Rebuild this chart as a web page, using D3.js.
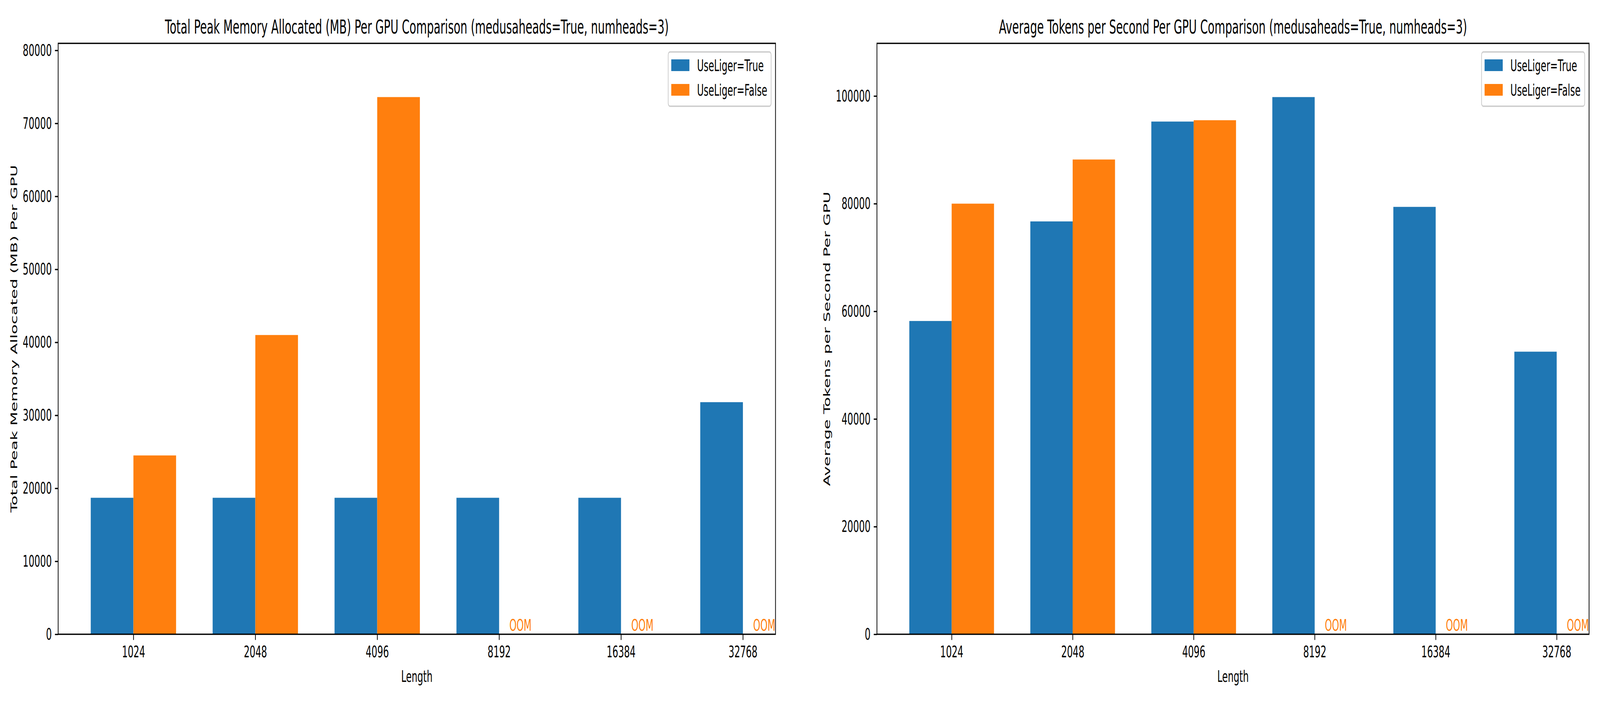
<!DOCTYPE html>
<html>
<head>
<meta charset="utf-8">
<script src="https://cdn.jsdelivr.net/npm/d3@7/dist/d3.min.js"></script>
<style>
  html, body { margin: 0; padding: 0; background: #ffffff; width: 100%; height: 100%; overflow: hidden; }
  svg { display: block; width: 100vw; height: 100vh; }
  text { font-family: "DejaVu Sans", sans-serif; fill: #000; }
</style>
</head>
<body>
<svg id="chart" viewBox="0 0 7320 1800" preserveAspectRatio="none"></svg>
<script>
// ---------------- data ----------------
const lengths = ["1024", "2048", "4096", "8192", "16384", "32768"];
const seriesNames = ["UseLiger=True", "UseLiger=False"];
const seriesColors = ["#1f77b4", "#ff7f0e"];

const memTrue  = [18700, 18700, 18700, 18700, 18700, 31800];
const memFalse = [24500, 41000, 73600, null, null, null];

const tpsTrue  = [58200, 76700, 95250, 99800, 79400, 52500];
const tpsFalse = [80000, 88200, 95500, null, null, null];

const memTicks = [0, 10000, 20000, 30000, 40000, 50000, 60000, 70000, 80000];
const tpsTicks = [0, 20000, 40000, 60000, 80000, 100000];

const memTitle = "Total Peak Memory Allocated (MB) Per GPU Comparison (medusaheads=True, numheads=3)";
const tpsTitle = "Average Tokens per Second Per GPU Comparison (medusaheads=True, numheads=3)";
const memYLabel = "Total Peak Memory Allocated (MB) Per GPU";
const tpsYLabel = "Average Tokens per Second Per GPU";
const xLabel = "Length";
const oomLabel = "OOM";

// ---------------- drawing ----------------
const svg = d3.select("#chart");
const FS = 41.67;      // 10pt @ 300dpi
const TFS = 50;        // 12pt @ 300dpi
const LW = 3.33;       // 0.8pt
const TICK = 14.6;     // 3.5pt
const BARW = 0.35;

svg.append("rect").attr("x", 0).attr("y", 0).attr("width", 7320).attr("height", 1800).attr("fill", "#ffffff");

function panel(cfg) {
  const { left, right, top, bottom, trueVals, falseVals, ticks, title, ylabel, ylabelX } = cfg;
  const g = svg.append("g");
  const x = d3.scaleLinear().domain([-0.6175, 5.2675]).range([left, right]);
  const ymax = d3.max(trueVals.concat(falseVals.filter(v => v != null))) * 1.1;
  const y = d3.scaleLinear().domain([0, ymax]).range([bottom, top]);

  const series = [trueVals, falseVals];
  series.forEach((vals, si) => {
    g.append("g").selectAll("rect")
      .data(vals.map((v, i) => ({ v, i })).filter(d => d.v != null))
      .join("rect")
      .attr("x", d => x(d.i - BARW + si * BARW))
      .attr("width", d => x(d.i + si * BARW) - x(d.i - BARW + si * BARW))
      .attr("y", d => y(d.v))
      .attr("height", d => y(0) - y(d.v))
      .attr("fill", seriesColors[si]);
  });

  // OOM labels
  g.append("g").selectAll("text")
    .data(falseVals.map((v, i) => ({ v, i })).filter(d => d.v == null))
    .join("text")
    .attr("x", d => x(d.i + BARW / 2))
    .attr("y", y(0) - 9)
    .attr("text-anchor", "middle")
    .style("font-size", FS + "px")
    .style("fill", seriesColors[1])
    .text(oomLabel);

  // y axis
  const yAxis = d3.axisLeft(y).tickValues(ticks).tickSize(TICK).tickPadding(14.6).tickFormat(d3.format("d"));
  const ya = g.append("g").attr("transform", `translate(${left},0)`).call(yAxis);
  ya.select(".domain").remove();
  ya.selectAll(".tick line").attr("stroke", "#000").attr("stroke-width", LW);
  ya.selectAll(".tick text").style("font-size", FS + "px").attr("fill", "#000")
    .attr("font-family", "DejaVu Sans");

  // x axis
  const xAxis = d3.axisBottom(x).tickValues(d3.range(lengths.length)).tickSize(TICK).tickPadding(14.6)
    .tickFormat(i => lengths[i]);
  const xa = g.append("g").attr("transform", `translate(0,${bottom})`).call(xAxis);
  xa.select(".domain").remove();
  xa.selectAll(".tick line").attr("stroke", "#000").attr("stroke-width", LW);
  xa.selectAll(".tick text").style("font-size", FS + "px").attr("fill", "#000")
    .attr("font-family", "DejaVu Sans");

  // spines
  g.append("rect")
    .attr("x", left).attr("y", top)
    .attr("width", right - left).attr("height", bottom - top)
    .attr("fill", "none").attr("stroke", "#000").attr("stroke-width", LW);

  // title
  g.append("text")
    .attr("x", (left + right) / 2).attr("y", top - 25)
    .attr("text-anchor", "middle")
    .style("font-size", TFS + "px")
    .text(title);

  // x label
  g.append("text")
    .attr("x", (left + right) / 2).attr("y", 1746)
    .attr("text-anchor", "middle")
    .style("font-size", FS + "px")
    .text(xLabel);

  // y label
  g.append("text")
    .attr("transform", `translate(${ylabelX},${(top + bottom) / 2}) rotate(-90)`)
    .attr("text-anchor", "middle")
    .style("font-size", FS + "px")
    .text(ylabel);

  // legend
  const lw = cfg.legendW, lh = 139;
  const lx = right - 20 - lw, ly = top + 22;
  const lg = g.append("g").attr("transform", `translate(${lx},${ly})`);
  lg.append("rect")
    .attr("width", lw).attr("height", lh).attr("rx", 8).attr("ry", 8)
    .attr("fill", "#ffffff").attr("fill-opacity", 0.8)
    .attr("stroke", "#cccccc").attr("stroke-width", LW);
  seriesNames.forEach((name, i) => {
    lg.append("rect")
      .attr("x", 14).attr("y", 19 + i * 63)
      .attr("width", 83).attr("height", 30)
      .attr("fill", seriesColors[i]);
    lg.append("text")
      .attr("x", 132).attr("y", 49 + i * 63)
      .style("font-size", FS + "px")
      .text(name);
  });
}

panel({
  left: 266, right: 3548, top: 111, bottom: 1624,
  trueVals: memTrue, falseVals: memFalse, ticks: memTicks,
  title: memTitle, ylabel: memYLabel, ylabelX: 78, legendW: 471
});

panel({
  left: 4012, right: 7270, top: 111, bottom: 1624,
  trueVals: tpsTrue, falseVals: tpsFalse, ticks: tpsTicks,
  title: tpsTitle, ylabel: tpsYLabel, ylabelX: 3798, legendW: 472
});
</script>
</body>
</html>
